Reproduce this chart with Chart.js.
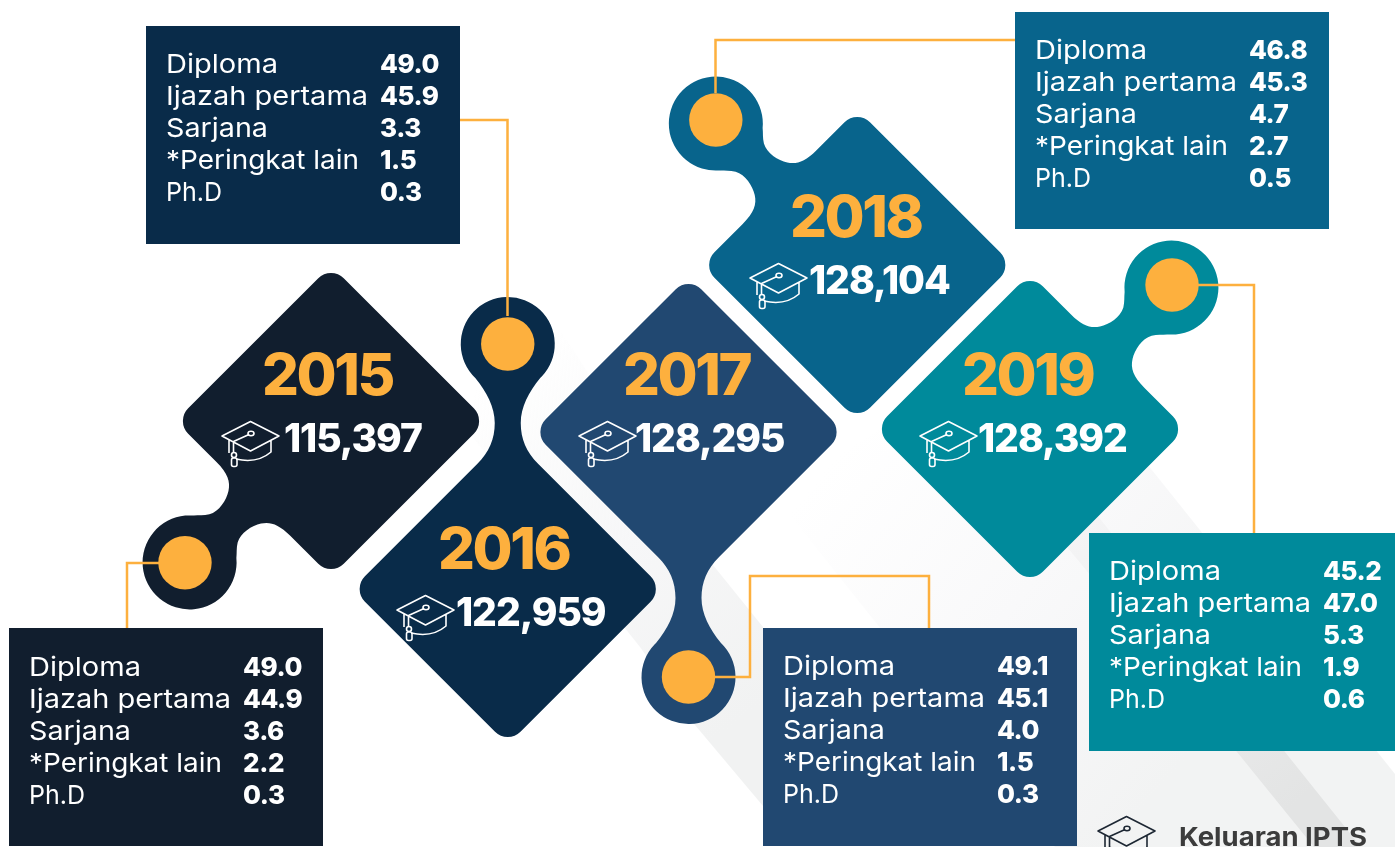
<!DOCTYPE html>
<html>
<head>
<meta charset="utf-8">
<title>Keluaran IPTS</title>
<script src="https://cdn.jsdelivr.net/npm/chart.js@4/dist/chart.umd.min.js"></script>
<style>
  html, body { margin: 0; padding: 0; background: #fff; overflow: hidden; }
  canvas { display: block; }
</style>
</head>
<body>
<canvas id="grafik" width="1395" height="847"></canvas>
<script>
// data
const years = [2015, 2016, 2017, 2018, 2019];
const totals = [115397, 122959, 128295, 128104, 128392];
const rowLabels = ['Diploma', 'Ijazah pertama', 'Sarjana', '*Peringkat lain', 'Ph.D'];
const shares2015 = [49.0, 44.9, 3.6, 2.2, 0.3];
const shares2016 = [49.0, 45.9, 3.3, 1.5, 0.3];
const shares2017 = [49.1, 45.1, 4.0, 1.5, 0.3];
const shares2018 = [46.8, 45.3, 4.7, 2.7, 0.5];
const shares2019 = [45.2, 47.0, 5.3, 1.9, 0.6];
const sharesByYear = [shares2015, shares2016, shares2017, shares2018, shares2019];
// zigzag row of each year (0 top, 1 middle, 2 bottom)
const rows = [1, 2, 1, 0, 1];
const legendText = 'Keluaran IPTS';

// look of each year, kept apart from the data
const ORANGE = '#fdb03e';
const FONT = 'Inter, sans-serif';
const colors = ['#111e2e', '#092b49', '#214871', '#08648c', '#008a9b'];
const nudge = [[0, -9], [2, -6], [8, 2], [2, 0], [0, -1]];
// handle: angle in degrees from the diamond centre, 'edge' sits on a side, 'tip' on a corner
const handles = [
  { type: 'edge', angle: 135, dot: [-4.6, 0.3] },
  { type: 'tip', angle: -90, dot: [0, 0] },
  { type: 'tip', angle: 90, dot: [0, 0] },
  { type: 'edge', angle: -135, dot: [0, -3.6] },
  { type: 'edge', angle: -45, dot: [0.6, -2.6] },
];
const boxes = [[9, 628, 314, 218], [146, 26, 314, 218], [763, 628, 314, 218], [1015, 12, 314, 217], [1089, 533, 306, 218]];
const rowStart = [48, 47, 47, 46.5, 47];
const labelWidths = [112, 202, 102, 193, 56];
const yearPos = [[262, 395], [438, 569], [623, 395], [790, 237], [962, 395]];
const totalPos = [[284, 452], [456, 626], [635, 452], [809, 294], [978, 452]];
const iconPos = [[222, 418], [397, 592], [579, 418], [750, 260], [920, 418]];
const connectors = [
  [[160, 563], [127, 563], [127, 628]],
  [[507.5, 316], [507.5, 120], [460, 120]],
  [[715, 677], [750, 677], [750, 576], [929, 576], [929, 628]],
  [[715.5, 93], [715.5, 40], [1015, 40]],
  [[1198, 285], [1254, 285], [1254, 533]],
];

const HALF = 110;
const CORNER = 18;
const R_HANDLE = 47;
const R_DOT = 26.7;
const DIST_EDGE = 200;
const DIST_TIP = 245;

function edgeShape(ctx) {
  const cx = DIST_EDGE;
  const a = Math.asin(30 / R_HANDLE);
  const jx = cx - R_HANDLE * Math.cos(a);
  ctx.beginPath();
  ctx.moveTo(HALF, -52);
  ctx.bezierCurveTo(HALF, -36, 114, -28, 122, -23);
  ctx.bezierCurveTo(130, -18, 143, -15, 152, -20);
  ctx.bezierCurveTo(157, -23, 160, -27, jx, -30);
  ctx.arc(cx, 0, R_HANDLE, -Math.PI + a, Math.PI - a);
  ctx.bezierCurveTo(160, 27, 157, 23, 152, 20);
  ctx.bezierCurveTo(143, 15, 130, 18, 122, 23);
  ctx.bezierCurveTo(114, 28, HALF, 36, HALF, 52);
  ctx.arcTo(HALF, HALF, -HALF, HALF, CORNER);
  ctx.arcTo(-HALF, HALF, -HALF, -HALF, CORNER);
  ctx.arcTo(-HALF, -HALF, HALF, -HALF, CORNER);
  ctx.arcTo(HALF, -HALF, HALF, 0, CORNER);
  ctx.closePath();
}

function tipShape(ctx) {
  // diamond with the stem on the +x corner
  const tip = HALF * Math.SQRT2;
  const cx = DIST_TIP;
  const a = Math.acos(34 / R_HANDLE);
  ctx.beginPath();
  ctx.moveTo(125, -(tip - 125));
  ctx.bezierCurveTo(137, -(tip - 137), 150, -13, 166, -13);
  ctx.bezierCurveTo(182, -13, 197, -21, cx - 34, -R_HANDLE * Math.sin(a));
  ctx.arc(cx, 0, R_HANDLE, -Math.PI + a, Math.PI - a);
  ctx.bezierCurveTo(197, 21, 182, 13, 166, 13);
  ctx.bezierCurveTo(150, 13, 137, tip - 137, 125, tip - 125);
  ctx.arcTo(0, tip, -tip, 0, CORNER);
  ctx.arcTo(-tip, 0, 0, -tip, CORNER);
  ctx.arcTo(0, -tip, tip, 0, CORNER);
  ctx.closePath();
}

function drawCap(ctx, x, y, color) {
  // mortarboard icon, drawn 57 wide
  ctx.save();
  ctx.translate(x, y);
  ctx.strokeStyle = color;
  ctx.lineWidth = 1.6;
  ctx.lineJoin = 'round';
  ctx.beginPath();
  ctx.moveTo(0, 18);
  ctx.lineTo(28.5, 3.5);
  ctx.lineTo(57, 18);
  ctx.lineTo(28.5, 33);
  ctx.closePath();
  ctx.moveTo(49, 22);
  ctx.lineTo(49, 34);
  ctx.quadraticCurveTo(35, 46, 14, 41);
  ctx.moveTo(7, 21.5);
  ctx.lineTo(7, 35);
  ctx.moveTo(11.5, 23.5);
  ctx.lineTo(27, 16.5);
  ctx.moveTo(11.5, 23.5);
  ctx.lineTo(11.5, 34);
  ctx.stroke();
  ctx.beginPath();
  ctx.ellipse(29, 15.5, 3, 2.2, 0, 0, Math.PI * 2);
  ctx.moveTo(14.5, 37);
  ctx.arc(12, 37, 2.5, 0, Math.PI * 2);
  ctx.stroke();
  ctx.beginPath();
  ctx.roundRect(9.5, 40, 5.5, 8.5, 2);
  ctx.stroke();
  ctx.restore();
}

function drawText(ctx, text, x, y, font, color, spacing) {
  ctx.font = font;
  ctx.fillStyle = color;
  ctx.letterSpacing = (spacing || 0) + 'px';
  ctx.fillText(text, x, y);
  ctx.letterSpacing = '0px';
}

// Inter runs narrower than the picture's font, so stretch to the measured width
function drawFitted(ctx, text, x, y, font, color, width) {
  ctx.font = font;
  ctx.fillStyle = color;
  const k = width / ctx.measureText(text).width;
  ctx.save();
  ctx.translate(x, y);
  ctx.scale(k, 1);
  ctx.fillText(text, 0, 0);
  ctx.restore();
}

function fillPolygon(ctx, pts, fill) {
  ctx.fillStyle = fill;
  ctx.beginPath();
  pts.forEach(([x, y], k) => (k ? ctx.lineTo(x, y) : ctx.moveTo(x, y)));
  ctx.closePath();
  ctx.fill();
}

function drawShadows(ctx) {
  // long shadow under 2018/2019
  const wide = ctx.createLinearGradient(800, 500, 1150, 800);
  wide.addColorStop(0, '#ffffff');
  wide.addColorStop(0.5, '#f9f9fa');
  wide.addColorStop(1, '#f2f3f3');
  fillPolygon(ctx, [[774, 495], [1040, 330], [1395, 774], [1395, 847], [1055, 847]], wide);

  // shadow of the 2016/2017 stem
  const stem = ctx.createLinearGradient(490, 380, 740, 720);
  stem.addColorStop(0, 'rgba(245,246,246,0)');
  stem.addColorStop(0.5, '#f7f7f8');
  stem.addColorStop(1, '#f1f2f2');
  fillPolygon(ctx, [[480, 350], [560, 330], [713, 565], [763, 627], [763, 806], [695, 725], [640, 647], [470, 434]], stem);

  // darker band running under the 2019 table
  const band = ctx.createLinearGradient(1080, 530, 1300, 800);
  band.addColorStop(0, '#f4f4f5');
  band.addColorStop(1, '#e3e4e4');
  fillPolygon(ctx, [[1067, 547], [1097, 515], [1285, 752], [1361, 847], [1314, 847], [1237, 752]], band);
}

const pluginInfografik = {
  id: 'pluginInfografik',
  beforeDatasetsDraw(chart) {
    const { ctx } = chart;
    const points = chart.getDatasetMeta(0).data;
    ctx.save();
    ctx.textBaseline = 'alphabetic';
    drawShadows(ctx);

    points.forEach((p, i) => {
      const x = p.x + nudge[i][0];
      const y = p.y + nudge[i][1];
      const h = handles[i];
      ctx.save();
      ctx.translate(x, y);
      ctx.rotate(h.angle * Math.PI / 180);
      if (h.type === 'edge') edgeShape(ctx); else tipShape(ctx);
      ctx.fillStyle = colors[i];
      ctx.fill();
      ctx.restore();
    });

    points.forEach((p, i) => {
      const x = p.x + nudge[i][0];
      const y = p.y + nudge[i][1];
      const h = handles[i];
      const dist = h.type === 'edge' ? DIST_EDGE : DIST_TIP;
      const ang = h.angle * Math.PI / 180;

      ctx.strokeStyle = ORANGE;
      ctx.lineWidth = 2.5;
      ctx.beginPath();
      connectors[i].forEach(([cx, cy], k) => (k ? ctx.lineTo(cx, cy) : ctx.moveTo(cx, cy)));
      ctx.stroke();

      ctx.fillStyle = ORANGE;
      ctx.beginPath();
      ctx.arc(x + dist * Math.cos(ang) + h.dot[0], y + dist * Math.sin(ang) + h.dot[1], R_DOT, 0, Math.PI * 2);
      ctx.fill();

      drawText(ctx, String(years[i]), yearPos[i][0], yearPos[i][1], `800 58px ${FONT}`, ORANGE, -2.4);
      drawText(ctx, totals[i].toLocaleString('en-US'), totalPos[i][0], totalPos[i][1], `800 39px ${FONT}`, '#ffffff', -1.1);
      drawCap(ctx, iconPos[i][0], iconPos[i][1], '#ffffff');

      const [bx, by, bw, bh] = boxes[i];
      ctx.fillStyle = colors[i];
      ctx.fillRect(bx, by, bw, bh);
      rowLabels.forEach((label, k) => {
        const base = by + rowStart[i] + k * 32;
        drawFitted(ctx, label, bx + 20, base, `400 26px ${FONT}`, '#ffffff', labelWidths[k]);
        drawText(ctx, sharesByYear[i][k].toFixed(1), bx + 234, base, `800 26px ${FONT}`, '#ffffff', -0.4);
      });
    });

    // legend, cut by the bottom of the picture
    drawCap(ctx, 1098, 813, '#1d2733');
    drawFitted(ctx, legendText, 1179, 846, `700 26px ${FONT}`, '#3c3c3c', 188);
    ctx.restore();
  },
};

new Chart(document.getElementById('grafik'), {
  type: 'scatter',
  data: {
    datasets: [{
      label: 'Keluaran IPTS',
      data: years.map((year, i) => ({ x: year, y: rows[i] })),
      pointRadius: 0,
    }],
  },
  options: {
    responsive: false,
    animation: false,
    layout: { padding: 0 },
    scales: {
      x: { type: 'linear', display: false, min: 2015 - 331 / 174.75, max: 2015 + (1395 - 331) / 174.75 },
      y: { type: 'linear', display: false, reverse: true, min: -265 / 165, max: (847 - 265) / 165 },
    },
    plugins: { legend: { display: false }, tooltip: { enabled: false } },
  },
  plugins: [pluginInfografik],
});
</script>
</body>
</html>
